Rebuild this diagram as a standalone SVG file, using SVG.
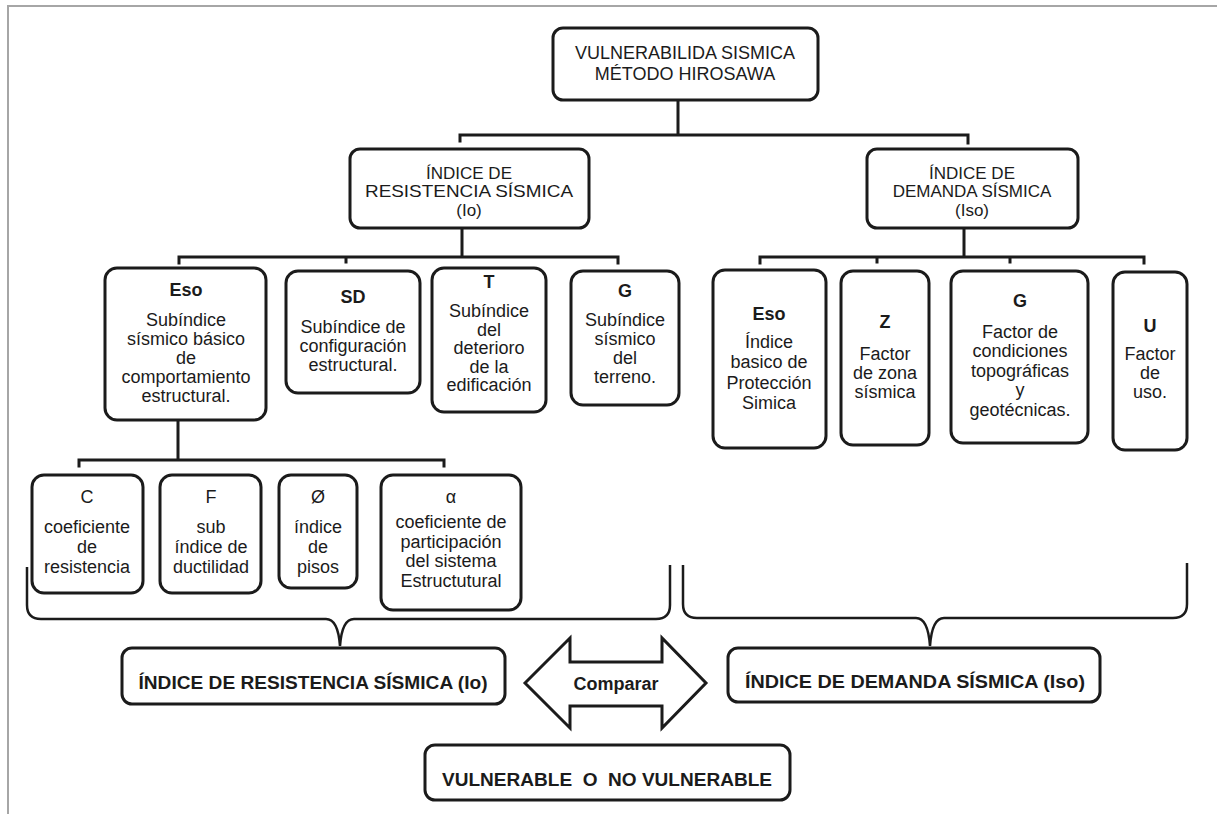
<svg xmlns="http://www.w3.org/2000/svg" width="1217" height="814" viewBox="0 0 1217 814">
<style>
.box{fill:#fff;stroke:#1b1b1b;stroke-width:3}
.t{font-family:"Liberation Sans",Arial,sans-serif;font-size:18px;fill:#1b1b1b;text-anchor:middle}
.h{font-size:18px}
.m{font-size:17px}
.b{font-weight:bold}
.big{font-size:19px}
.conn{fill:none;stroke:#1b1b1b;stroke-width:3;stroke-linecap:square}
.br{fill:none;stroke:#1b1b1b;stroke-width:2.5}
.frame{fill:none;stroke:#a6a6a6;stroke-width:2}
</style>
<rect width="1217" height="814" fill="#fff"/>
<path class="frame" d="M8 814 L8 6 L1217 6"/>

<g id="connectors">
  <path class="conn" d="M678 100 V135 M460 135 H968 M460 135 V141 M968 135 V143"/>
  <path class="conn" d="M462 228 V257 M179 257 H618 M179 257 V263 M346 257 V262 M618 257 V263"/>
  <path class="conn" d="M964 228 V257 M760 257 H1144 M760 257 V263 M877 257 V262 M1010 257 V262 M1144 257 V263"/>
  <path class="conn" d="M178 420 V460 M79 460 H444 M79 460 V466 M444 460 V466"/>
  <path class="br" d="M27 567 L27 605 Q27 619 41 619 L326 619 Q338 619 340 646 Q342 619 354 619 L656 619 Q670 619 670 605 L670 565"/>
  <path class="br" d="M683 565 L683 604 Q683 618 697 618 L916 618 Q928 618 930 646 Q932 618 944 618 L1173 618 Q1187 618 1187 604 L1187 563"/>
</g>

<g id="n-top">
  <rect class="box" x="553" y="28" width="265" height="72" rx="10"/>
  <text class="t h" x="685" y="59">VULNERABILIDA SISMICA</text>
  <text class="t h" x="685" y="80">MÉTODO HIROSAWA</text>
</g>

<g id="n-io">
  <rect class="box" x="350" y="149" width="239" height="79" rx="10"/>
  <text class="t m" x="469" y="179">ÍNDICE DE</text>
  <text class="t m" x="469" y="197" textLength="208" lengthAdjust="spacingAndGlyphs">RESISTENCIA SÍSMICA</text>
  <text class="t m" x="469" y="216">(Io)</text>
</g>

<g id="n-iso">
  <rect class="box" x="867" y="149" width="211" height="79" rx="10"/>
  <text class="t m" x="972" y="179">ÍNDICE DE</text>
  <text class="t m" x="972" y="197">DEMANDA SÍSMICA</text>
  <text class="t m" x="972" y="216">(Iso)</text>
</g>

<g id="n-eso-l">
  <rect class="box" x="105" y="268" width="161" height="152" rx="12"/>
  <text class="t b" x="186" y="296">Eso</text>
  <text class="t" x="186" y="326">Subíndice</text>
  <text class="t" x="186" y="345">sísmico básico</text>
  <text class="t" x="186" y="364">de</text>
  <text class="t" x="186" y="383">comportamiento</text>
  <text class="t" x="186" y="402">estructural.</text>
</g>

<g id="n-sd">
  <rect class="box" x="286" y="271" width="134" height="122" rx="12"/>
  <text class="t b" x="353" y="303">SD</text>
  <text class="t" x="353" y="333">Subíndice de</text>
  <text class="t" x="353" y="352">configuración</text>
  <text class="t" x="353" y="371">estructural.</text>
</g>

<g id="n-t">
  <rect class="box" x="432" y="268" width="114" height="144" rx="12"/>
  <text class="t b" x="489" y="288">T</text>
  <text class="t" x="489" y="317">Subíndice</text>
  <text class="t" x="489" y="335.5">del</text>
  <text class="t" x="489" y="354">deterioro</text>
  <text class="t" x="489" y="372.5">de la</text>
  <text class="t" x="489" y="391">edificación</text>
</g>

<g id="n-g-l">
  <rect class="box" x="571" y="271" width="108" height="134" rx="12"/>
  <text class="t b" x="625" y="297">G</text>
  <text class="t" x="625" y="326">Subíndice</text>
  <text class="t" x="625" y="345">sísmico</text>
  <text class="t" x="625" y="364">del</text>
  <text class="t" x="625" y="383">terreno.</text>
</g>

<g id="n-eso-r">
  <rect class="box" x="713" y="270" width="113" height="178" rx="12"/>
  <text class="t b" x="769" y="320">Eso</text>
  <text class="t" x="769" y="348">Índice</text>
  <text class="t" x="769" y="368">basico de</text>
  <text class="t" x="769" y="389">Protección</text>
  <text class="t" x="769" y="409">Simica</text>
</g>

<g id="n-z">
  <rect class="box" x="841" y="271" width="88" height="174" rx="12"/>
  <text class="t b" x="885" y="328">Z</text>
  <text class="t" x="885" y="360">Factor</text>
  <text class="t" x="885" y="379">de zona</text>
  <text class="t" x="885" y="398">sísmica</text>
</g>

<g id="n-g-r">
  <rect class="box" x="951" y="271" width="137" height="172" rx="12"/>
  <text class="t b" x="1020" y="307">G</text>
  <text class="t" x="1020" y="338">Factor de</text>
  <text class="t" x="1020" y="357">condiciones</text>
  <text class="t" x="1020" y="377">topográficas</text>
  <text class="t" x="1020" y="396">y</text>
  <text class="t" x="1020" y="416">geotécnicas.</text>
</g>

<g id="n-u">
  <rect class="box" x="1113" y="272" width="74" height="178" rx="12"/>
  <text class="t b" x="1150" y="332">U</text>
  <text class="t" x="1150" y="360">Factor</text>
  <text class="t" x="1150" y="379">de</text>
  <text class="t" x="1150" y="398">uso.</text>
</g>

<g id="n-c">
  <rect class="box" x="32" y="475" width="111" height="118" rx="12"/>
  <text class="t" x="87" y="503">C</text>
  <text class="t" x="87" y="533">coeficiente</text>
  <text class="t" x="87" y="553">de</text>
  <text class="t" x="87" y="573">resistencia</text>
</g>

<g id="n-f">
  <rect class="box" x="160" y="475" width="101" height="118" rx="12"/>
  <text class="t" x="211" y="503">F</text>
  <text class="t" x="211" y="533">sub</text>
  <text class="t" x="211" y="553">índice de</text>
  <text class="t" x="211" y="573">ductilidad</text>
</g>

<g id="n-phi">
  <rect class="box" x="279" y="475" width="78" height="113" rx="12"/>
  <text class="t" x="318" y="503">Ø</text>
  <text class="t" x="318" y="533">índice</text>
  <text class="t" x="318" y="553">de</text>
  <text class="t" x="318" y="573">pisos</text>
</g>

<g id="n-alpha">
  <rect class="box" x="381" y="475" width="140" height="135" rx="12"/>
  <text class="t" x="451" y="503">α</text>
  <text class="t" x="451" y="528">coeficiente de</text>
  <text class="t" x="451" y="547.5">participación</text>
  <text class="t" x="451" y="567">del sistema</text>
  <text class="t" x="451" y="586.5">Estructutural</text>
</g>

<g id="n-io-bottom">
  <rect class="box" x="122" y="648" width="383" height="56" rx="10"/>
  <text class="t b big" x="313" y="689" textLength="349" lengthAdjust="spacingAndGlyphs">ÍNDICE DE RESISTENCIA SÍSMICA (Io)</text>
</g>

<g id="n-comparar">
  <polygon class="box" points="525,683 570,638 570,662 662,662 662,638 706,683 662,728 662,706 570,706 570,728"/>
  <text class="t b h" x="616" y="690">Comparar</text>
</g>

<g id="n-iso-bottom">
  <rect class="box" x="728" y="648" width="372" height="54" rx="10"/>
  <text class="t b big" x="915" y="688" textLength="340" lengthAdjust="spacingAndGlyphs">ÍNDICE DE DEMANDA SÍSMICA (Iso)</text>
</g>

<g id="n-result">
  <rect class="box" x="425" y="745" width="365" height="55" rx="10"/>
  <text class="t b big" x="607" y="786" textLength="330" lengthAdjust="spacingAndGlyphs" xml:space="preserve">VULNERABLE  O  NO VULNERABLE</text>
</g>
</svg>
